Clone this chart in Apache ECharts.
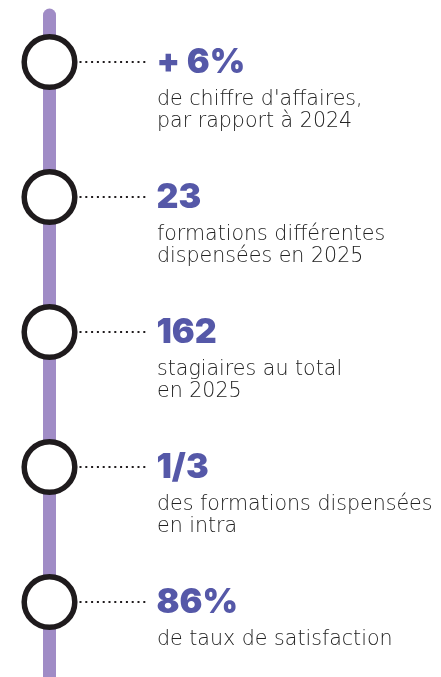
<!DOCTYPE html>
<html>
<head>
<meta charset="utf-8">
<script src="https://cdn.jsdelivr.net/npm/echarts@6/dist/echarts.min.js"></script>
<style>
  html, body { margin: 0; padding: 0; background: #fff; }
  #chart { width: 441px; height: 677px; }
</style>
</head>
<body>
<div id="chart"></div>
<script>
// chiffres clés 2025
var rows = ['ca', 'formations', 'stagiaires', 'intra', 'satisfaction'];
var figures = ['+ 6%', '23', '162', '1/3', '86%'];
var line1 = ["de chiffre d'affaires,", 'formations différentes', 'stagiaires au total', 'des formations dispensées', 'de taux de satisfaction'];
var line2 = ['par rapport à 2024', 'dispensées en 2025', 'en 2025', 'en intra', ''];

var chart = echarts.init(document.getElementById('chart'));

function renderStep(params, api) {
    var c = api.coord([api.value(0), api.value(1)]);
    var i = params.dataIndex;
    return {
        type: 'group',
        children: [
            {
                type: 'line',
                shape: {x1: c[0] + 30, y1: c[1], x2: c[0] + 96, y2: c[1]},
                style: {stroke: '#1f1b1d', lineWidth: 2, lineDash: [2, 3.8]}
            },
            {
                type: 'circle',
                shape: {cx: c[0], cy: c[1], r: 25.3},
                style: {fill: '#fff', stroke: '#1f1b1d', lineWidth: 5.5}
            },
            {
                type: 'text',
                x: c[0] + 107,
                y: c[1] + 1,
                style: {
                    text: figures[i],
                    fill: '#5558a8',
                    font: '900 34px Inter',
                    verticalAlign: 'middle'
                }
            },
            {
                type: 'text',
                x: c[0] + 107.5,
                y: c[1] + 26,
                style: {
                    text: line2[i] ? line1[i] + '\n' + line2[i] : line1[i],
                    fill: '#222',
                    font: '200 20.6px "DejaVu Sans"',
                    lineHeight: 22.5,
                    verticalAlign: 'top'
                }
            }
        ]
    };
}

var option = {
    animation: false,
    grid: [
        {left: 49.5, right: 0, top: 15, bottom: 0},
        {left: 49.5, right: 0, top: 62, bottom: 75}
    ],
    xAxis: [
        {gridIndex: 0, type: 'value', min: 0, max: 1, show: false},
        {gridIndex: 1, type: 'value', min: 0, max: 1, show: false}
    ],
    yAxis: [
        {
            gridIndex: 0,
            type: 'value',
            min: 0,
            max: 1,
            axisLine: {
                show: true,
                onZero: false,
                lineStyle: {color: '#a08cc6', width: 13, cap: 'round'}
            },
            axisTick: {show: false},
            axisLabel: {show: false},
            splitLine: {show: false}
        },
        {
            gridIndex: 1,
            type: 'category',
            inverse: true,
            boundaryGap: false,
            data: rows,
            show: false
        }
    ],
    series: [
        {
            type: 'custom',
            xAxisIndex: 1,
            yAxisIndex: 1,
            renderItem: renderStep,
            data: rows.map(function (r, i) {
                return [0, i];
            })
        }
    ]
};

chart.setOption(option);
</script>
</body>
</html>
